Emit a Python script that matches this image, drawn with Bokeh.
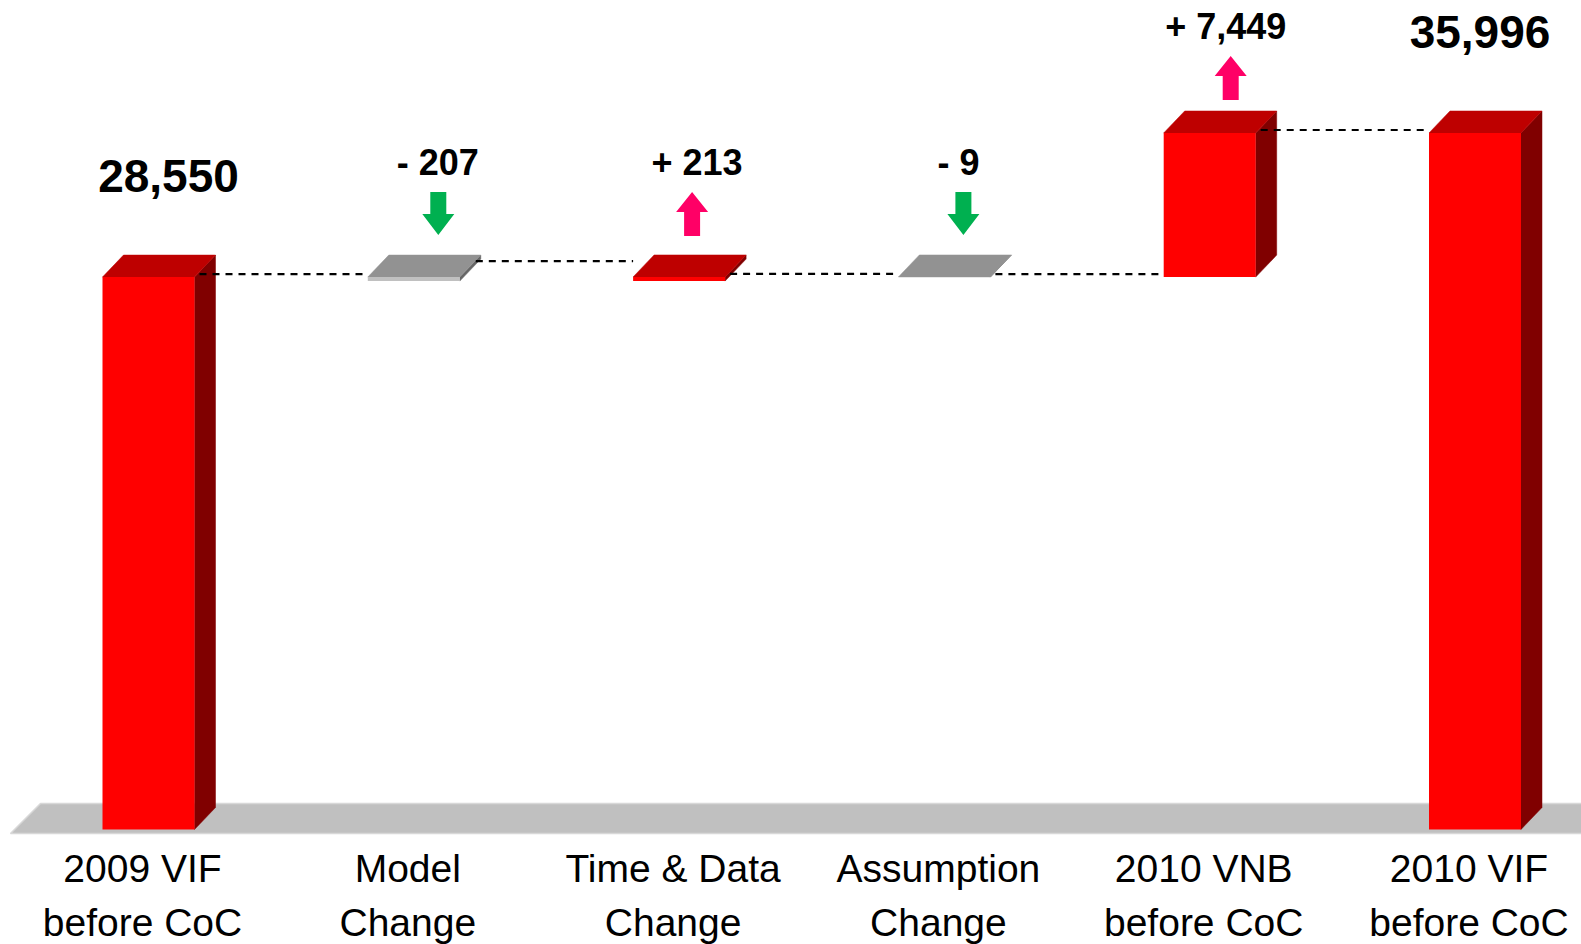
from bokeh.plotting import figure
from bokeh.models import Range1d
from bokeh.embed import file_html
from bokeh.resources import INLINE
from bokeh.core.properties import value

# ---- data -------------------------------------------------------------
category_line1 = ["2009 VIF", "Model", "Time & Data", "Assumption", "2010 VNB", "2010 VIF"]
category_line2 = ["before CoC", "Change", "Change", "Change", "before CoC", "before CoC"]
amounts = [28550, -207, 213, -9, 7449, 35996]
is_total = [True, False, False, False, False, True]
amount_labels = ["28,550", "- 207", "+ 213", "- 9", "+ 7,449", "35,996"]

# ---- layout constants (screen pixels) ----------------------------------
W, H = 1581, 944
BASE_PX = 829          # screen row of the value 0
K = 0.01935            # pixels per value unit
PITCH = 265.3          # pixels between bar centres
FIRST_PX = 148         # screen column of the first bar centre
HALF_W = 46 / PITCH    # half bar width (index units)
DX = 21 / PITCH        # 3-D depth, horizontal
DY = 22 / K            # 3-D depth, vertical
BASELINE_FIX = 0.385   # text baseline correction, in em


def ux(px):
    return px / PITCH


def uy(px):
    return px / K


RED = dict(front="#FF0000", top="#BE0000", side="#800000")
GRAY = dict(front="#C0C0C0", top="#929292", side="#666666")

# running totals -> bar extents
bottoms, tops, colors, levels = [], [], [], []
run = 0
for a, tot in zip(amounts, is_total):
    if tot:
        b, t = 0, a
        run = a
        colors.append(RED)
    else:
        b, t = min(run, run + a), max(run, run + a)
        run += a
        colors.append(RED if a > 0 else GRAY)
    bottoms.append(b)
    tops.append(t)
    levels.append(run)

n = len(amounts)
xs = list(range(n))

p = figure(width=W, height=H,
           x_range=Range1d(-FIRST_PX / PITCH, (W - FIRST_PX) / PITCH),
           y_range=Range1d(-(H - BASE_PX) / K, BASE_PX / K),
           output_backend="svg", toolbar_location=None, min_border=0,
           x_axis_location=None, y_axis_location=None)
p.grid.visible = False
p.outline_line_color = None
p.background_fill_color = "white"
p.border_fill_color = "white"

# ---- floor --------------------------------------------------------------
floor_front = -uy(4)
floor_back = uy(26)
left_front = -ux(FIRST_PX - 10)
left_back = -ux(FIRST_PX - 40)
right_end = ux(W - FIRST_PX + 20)
p.patch([left_front, right_end, right_end, left_back],
        [floor_front, floor_front, floor_back, floor_back],
        fill_color="#C0C0C0", line_color="#D8D8D8", line_width=1.5)

# ---- 3-D bars -------------------------------------------------------------
side_x, side_y, side_c = [], [], []
top_x, top_y, top_c = [], [], []
for i, b, t, c in zip(xs, bottoms, tops, colors):
    l, r = i - HALF_W, i + HALF_W
    side_x.append([r, r, r + DX, r + DX])
    side_y.append([b, t, t + DY, b + DY])
    side_c.append(c["side"])
    top_x.append([l, r, r + DX, l + DX])
    top_y.append([t, t, t + DY, t + DY])
    top_c.append(c["top"])

p.patches(side_x, side_y, fill_color=side_c, line_color=side_c, line_width=0.5)
p.patches(top_x, top_y, fill_color=top_c, line_color=top_c, line_width=0.5)
p.quad(left=[i - HALF_W for i in xs], right=[i + HALF_W for i in xs],
       bottom=bottoms, top=tops,
       fill_color=[c["front"] for c in colors], line_color=None)

# ---- dashed connectors ----------------------------------------------------
back_plane = [False, True, False, False, False]
x0s, x1s, ys = [], [], []
for i in range(n - 1):
    lvl = levels[i]
    if back_plane[i]:
        x0s.append(i + HALF_W + DX - ux(5))
        ys.append(lvl + DY - uy(2))
    else:
        x0s.append(i + HALF_W + ux(5))
        ys.append(lvl + uy(3))
    x1s.append(i + 1 - HALF_W)
p.segment(x0=x0s, y0=ys, x1=x1s, y1=ys, line_color="black",
          line_width=2.2, line_dash="7 6")

# ---- value labels and arrows ---------------------------------------------
label_gap_px = [61, 79, 79, 79, 71, 61]
label_dx_px = [20, 24, 18, 14, 16, 5]
arrow_dx_px = [0, 24.5, 13, 19, 21, 0]
label_x, label_y = [], []
for i, t, g, d in zip(xs, tops, label_gap_px, label_dx_px):
    label_x.append(i + ux(d))
    label_y.append(t + DY + uy(g))

tot_idx = [i for i in xs if is_total[i]]
chg_idx = [i for i in xs if not is_total[i]]
p.text(x=[label_x[i] for i in tot_idx],
       y=[label_y[i] + uy(BASELINE_FIX * 46) for i in tot_idx],
       text=[amount_labels[i] for i in tot_idx],
       text_font=value("Liberation Sans"), text_font_style="bold",
       text_font_size="46px", text_align="center", text_baseline="alphabetic",
       text_color="black")
p.text(x=[label_x[i] for i in chg_idx],
       y=[label_y[i] + uy(BASELINE_FIX * 36) for i in chg_idx],
       text=[amount_labels[i] for i in chg_idx],
       text_font=value("Liberation Sans"), text_font_style="bold",
       text_font_size="36px", text_align="center", text_baseline="alphabetic",
       text_color="black")

arr_x, arr_y, arr_c = [], [], []
shaft, head = ux(8), ux(16)
for i in chg_idx:
    cx = i + ux(arrow_dx_px[i])
    base = label_y[i]
    if amounts[i] < 0:
        y_top = base - uy(16)
        y_neck = base - uy(38)
        y_tip = base - uy(59)
        arr_x.append([cx - shaft, cx + shaft, cx + shaft, cx + head, cx,
                      cx - head, cx - shaft])
        arr_y.append([y_top, y_top, y_neck, y_neck, y_tip, y_neck, y_neck])
        arr_c.append("#00B050")
    else:
        y_tip = base - uy(16)
        y_neck = base - uy(36)
        y_bot = base - uy(60)
        arr_x.append([cx, cx + head, cx + shaft, cx + shaft, cx - shaft,
                      cx - shaft, cx - head])
        arr_y.append([y_tip, y_neck, y_neck, y_bot, y_bot, y_neck, y_neck])
        arr_c.append("#FF0066")
p.patches(arr_x, arr_y, fill_color=arr_c, line_color=None)

# ---- category labels ------------------------------------------------------
cat_x = [i - ux(6) for i in xs]
fix = uy(BASELINE_FIX * 39)
p.text(x=cat_x, y=[-uy(883 - BASE_PX) + fix] * n, text=category_line1,
       text_font=value("Liberation Sans"), text_font_size="39px",
       text_align="center", text_baseline="alphabetic", text_color="black")
p.text(x=cat_x, y=[-uy(937 - BASE_PX) + fix] * n, text=category_line2,
       text_font=value("Liberation Sans"), text_font_size="39px",
       text_align="center", text_baseline="alphabetic", text_color="black")

open("out.html", "w").write(file_html(p, INLINE))
